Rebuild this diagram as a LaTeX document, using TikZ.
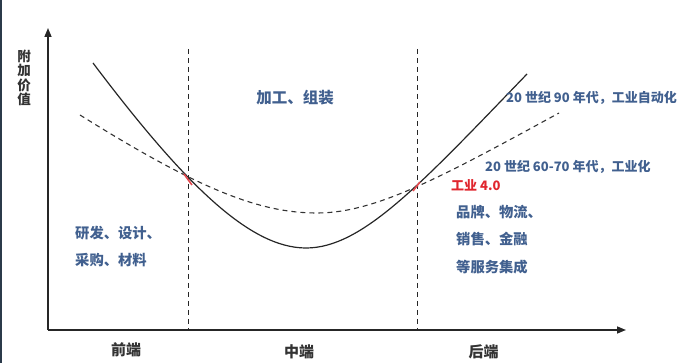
\documentclass[tikz,border=0pt]{standalone}
\usepackage{fontspec}
\newfontfamily\cjk{Noto Sans CJK SC}
\usetikzlibrary{arrows.meta}
\definecolor{labelblue}{HTML}{41608F}
\definecolor{labelred}{HTML}{E0262E}
\definecolor{edgegray}{HTML}{2B3A4A}

\begin{document}
\begin{tikzpicture}[
    x=1pt, y=-1pt,
    axis/.style={-{Triangle[length=9pt, width=7pt]}, line width=1.5pt, draw=black!85},
    divider/.style={dash pattern=on 5pt off 4pt, line width=0.9pt, draw=black!85},
    curve/.style={line width=1.2pt, draw=black!85},
    trend/.style={dash pattern=on 5pt off 4pt, line width=1.1pt, draw=black!80},
    hit/.style={draw=labelred!85, line width=1.6pt},
    segtext/.style={font=\cjk\bfseries\fontsize{13}{27}\selectfont, text=labelblue, align=left, inner sep=0pt},
    blocktext/.style={segtext, font=\cjk\bfseries\fontsize{14.3}{27.5}\selectfont},
    stage/.style={font=\cjk\bfseries\fontsize{15}{15}\selectfont, text=black!80, inner sep=0pt},
]
\useasboundingbox (0,0) rectangle (680,363);
\fill[edgegray] (0,0) rectangle (1.5,363);

% axes
\coordinate (origin) at (48,330);
\coordinate (ytop) at (48,28);
\coordinate (xend) at (626,330);
\draw[axis] (origin) -- (ytop);
\draw[axis] (origin) -- (xend);

% stage dividers
\coordinate (d1top) at (188,49);
\coordinate (d1bot) at (188,330);
\coordinate (d2top) at (417,49);
\coordinate (d2bot) at (417,330);
\draw[divider] (d1top) -- (d1bot);
\draw[divider] (d2top) -- (d2bot);

% smile curves
\coordinate (sstart) at (93,63);
\coordinate (smin) at (306,248);
\coordinate (send) at (527,74);
\draw[curve] (sstart) .. controls (185,185) and (250,248) .. (smin)
    .. controls (362,248) and (420,185) .. (send);
\coordinate (tstart) at (80,115);
\coordinate (tmin) at (317,213);
\coordinate (tend) at (559,113);
\draw[trend] (tstart) .. controls (200,190) and (260,213) .. (tmin)
    .. controls (375,213) and (440,178) .. (tend);
\draw[hit] (184,174) -- (192,185);
\draw[hit] (413,191) -- (420,182);

% labels
\node[stage, align=center, font=\cjk\bfseries\fontsize{13.5}{14.3}\selectfont] (yname) at (24,78) {附\\加\\价\\值};
\node[segtext, font=\cjk\bfseries\fontsize{15.5}{15.5}\selectfont] (mid) at (295,98) {加工、组装};
\node[segtext, anchor=west] (auto) at (506,98) {20 世纪 90 年代，工业自动化};
\node[segtext, anchor=west] (indus) at (485,167) {20 世纪 60-70 年代，工业化};
\node[segtext, anchor=west, text=labelred] (ind4) at (451,185) {工业 4.0};
\node[blocktext, anchor=west] (front) at (75,246.5) {研发、设计、\\采购、材料};
\node[blocktext, anchor=west] (back) at (456,239.5) {品牌、物流、\\销售、金融\\等服务集成};
\node[stage] (qd) at (126,350) {前端};
\node[stage] (zd) at (299,352) {中端};
\node[stage] (hd) at (483.5,352) {后端};
\end{tikzpicture}
\end{document}
